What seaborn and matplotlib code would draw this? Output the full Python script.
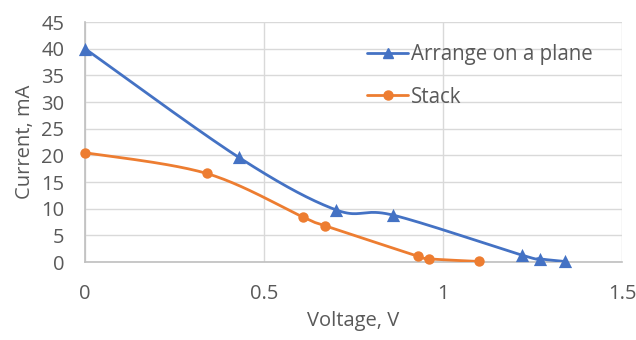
import numpy as np
import pandas as pd
import matplotlib
matplotlib.use("Agg")
import matplotlib.pyplot as plt
from matplotlib.lines import Line2D
import seaborn as sns

# Measured I-V points for the two cell arrangements
plane_v = [0.0, 0.43, 0.70, 0.86, 1.22, 1.27, 1.34]
plane_i = [40.0, 19.6, 9.8, 8.8, 1.3, 0.6, 0.1]
stack_v = [0.0, 0.34, 0.61, 0.67, 0.93, 0.96, 1.10]
stack_i = [20.5, 16.6, 8.4, 6.8, 1.1, 0.6, 0.1]

series_names = ["Arrange on a plane", "Stack"]
x_ticks = [0, 0.5, 1, 1.5]
x_tick_labels = ["0", "0.5", "1", "1.5"]
y_ticks = [0, 5, 10, 15, 20, 25, 30, 35, 40, 45]

BLUE = "#4472C4"
ORANGE = "#ED7D31"
TXT = "#595959"
FS = 14.5


def smooth_curve(x, y, n=40):
    """Piecewise cubic Bezier through the points (spreadsheet-style smoothing)."""
    x = np.asarray(x, float)
    y = np.asarray(y, float)
    px, py = [], []
    m = len(x)
    for k in range(m - 1):
        x0, y0 = (x[k - 1], y[k - 1]) if k > 0 else (x[k], y[k])
        x3, y3 = (x[k + 2], y[k + 2]) if k + 2 < m else (x[k + 1], y[k + 1])
        c1x = x[k] + (x[k + 1] - x0) / 6
        c1y = y[k] + (y[k + 1] - y0) / 6
        c2x = x[k + 1] - (x3 - x[k]) / 6
        c2y = y[k + 1] - (y3 - y[k]) / 6
        t = np.linspace(0, 1, n)
        b0 = (1 - t) ** 3
        b1 = 3 * (1 - t) ** 2 * t
        b2 = 3 * (1 - t) * t ** 2
        b3 = t ** 3
        px.append(b0 * x[k] + b1 * c1x + b2 * c2x + b3 * x[k + 1])
        py.append(b0 * y[k] + b1 * c1y + b2 * c2y + b3 * y[k + 1])
    return np.concatenate(px), np.concatenate(py)


sns.set_theme(style="white")
plt.rcParams["font.family"] = ["Open Sans", "DejaVu Sans"]

fig = plt.figure(figsize=(6.36, 3.40), dpi=100)
ax = fig.add_axes([85 / 636, 1 - 262 / 340, (622 - 85) / 636, (262 - 22) / 340])

series = [
    (plane_v, plane_i, BLUE, "^", 9.5),
    (stack_v, stack_i, ORANGE, "o", 7.5),
]
for (vx, iy, col, mk, ms), name in zip(series, series_names):
    cx, cy = smooth_curve(vx, iy)
    curve = pd.DataFrame({"V": cx, "I": cy})
    sns.lineplot(data=curve, x="V", y="I", ax=ax, color=col, lw=2.0,
                 sort=False, estimator=None, zorder=3)
    pts = pd.DataFrame({"V": vx, "I": iy})
    sns.scatterplot(data=pts, x="V", y="I", ax=ax, color=col, marker=mk,
                    s=ms ** 2, edgecolor=col, linewidth=0, zorder=4,
                    clip_on=False)

ax.set_xlim(0, 1.5)
ax.set_ylim(0, 45)
ax.set_xticks(x_ticks)
ax.set_xticklabels(x_tick_labels)
ax.set_yticks(y_ticks)
ax.grid(True, color="#D9D9D9", lw=1.0)
ax.set_axisbelow(True)
for side in ("top", "right"):
    ax.spines[side].set_visible(False)
for side in ("left", "bottom"):
    ax.spines[side].set_color("#BFBFBF")
    ax.spines[side].set_linewidth(1.2)
ax.tick_params(axis="both", length=0, labelsize=FS, colors=TXT)
ax.tick_params(axis="x", pad=16)
ax.tick_params(axis="y", pad=15)
ax.set_xlabel("Voltage, V", fontsize=FS, color=TXT, labelpad=5)
ax.set_ylabel("Current, mA", fontsize=FS, color=TXT, labelpad=4)

handles = [
    Line2D([], [], color=BLUE, lw=2.0, marker="^", markersize=7),
    Line2D([], [], color=ORANGE, lw=2.0, marker="o", markersize=6.5),
]
leg = ax.legend(handles, series_names, loc="upper left",
                bbox_to_anchor=((367 - 85) / 537, 1 - 22 / 240),
                frameon=False, fontsize=14.8, labelcolor=TXT,
                handlelength=2.0, handletextpad=0.15, labelspacing=1.05,
                borderaxespad=0, borderpad=0)

fig.savefig("out.png", dpi=100)
